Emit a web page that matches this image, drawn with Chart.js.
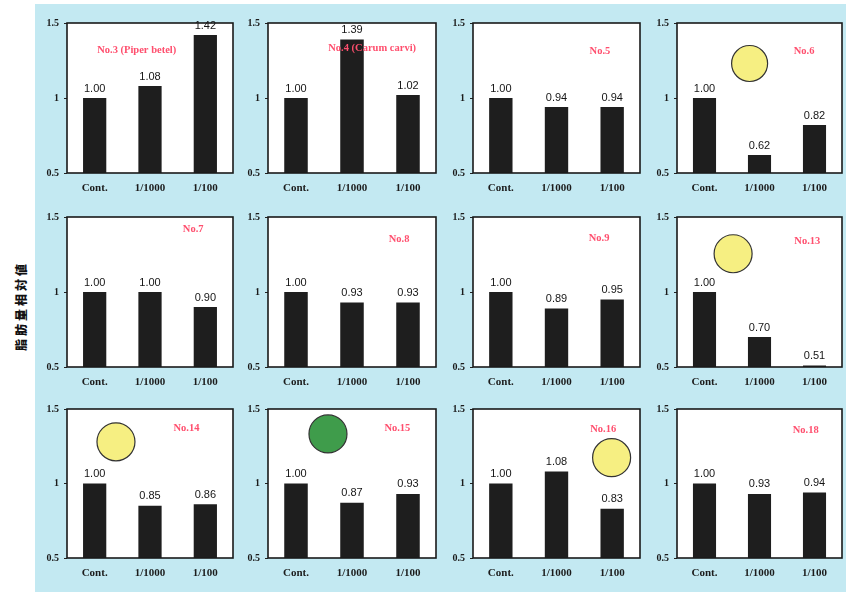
<!DOCTYPE html>
<html>
<head>
<meta charset="utf-8">
<script src="https://cdn.jsdelivr.net/npm/chart.js@4.4.1/dist/chart.umd.min.js"></script>
<style>
  html, body { margin: 0; padding: 0; background: #ffffff; }
  #stage { position: relative; width: 846px; height: 595px; overflow: hidden; background: #ffffff; }
  #tint { position: absolute; left: 35px; top: 4px; right: 0; bottom: 3px; background: #c3e9f2; }
  .panel { position: absolute; }
  #ylabel {
    position: absolute; left: 20px; top: 306px;
    transform: translate(-50%, -50%) rotate(-90deg);
    font: 900 12px "Noto Sans CJK JP", sans-serif; letter-spacing: 3px;
    white-space: nowrap; color: #111;
  }
</style>
</head>
<body>
<div id="stage">
  <div id="tint"></div>
  <div id="ylabel">脂肪量相対値</div>
</div>
<script>
// Treatment groups shared by every panel
const categories = ['Cont.', '1/1000', '1/100'];
const yTicks = [0.5, 1, 1.5];

// Relative fat amount per sample (Cont., 1/1000, 1/100)
const no3  = [1.00, 1.08, 1.42];
const no4  = [1.00, 1.39, 1.02];
const no5  = [1.00, 0.94, 0.94];
const no6  = [1.00, 0.62, 0.82];
const no7  = [1.00, 1.00, 0.90];
const no8  = [1.00, 0.93, 0.93];
const no9  = [1.00, 0.89, 0.95];
const no13 = [1.00, 0.70, 0.51];
const no14 = [1.00, 0.85, 0.86];
const no15 = [1.00, 0.87, 0.93];
const no16 = [1.00, 1.08, 0.83];
const no18 = [1.00, 0.93, 0.94];

const panelTitles = ['No.3 (Piper betel)', 'No.4 (Carum carvi)', 'No.5', 'No.6',
                     'No.7', 'No.8', 'No.9', 'No.13',
                     'No.14', 'No.15', 'No.16', 'No.18'];
const panelValues = [no3, no4, no5, no6, no7, no8, no9, no13, no14, no15, no16, no18];

// Page layout: plot-area bounds for each row / column
const rowBounds = [[22, 173], [216, 367], [408, 558]];
const colBounds = [[67, 233], [268, 436], [473, 640], [677, 842]];

// Title position (fraction of plot area) for each panel
const titlePos = [[0.42, 0.185], [0.62, 0.17], [0.76, 0.19], [0.77, 0.19],
                  [0.76, 0.08], [0.78, 0.15], [0.755, 0.145], [0.79, 0.16],
                  [0.72, 0.127], [0.77, 0.13], [0.78, 0.133], [0.78, 0.14]];

// Coloured disc badges (fraction of plot area, radius px)
const discs = {
  3:  { color: '#f6ef82', fx: 0.44,  fy: 0.27,  r: 18 },
  7:  { color: '#f6ef82', fx: 0.34,  fy: 0.245, r: 19 },
  8:  { color: '#f6ef82', fx: 0.295, fy: 0.22,  r: 19 },
  9:  { color: '#3f9c4b', fx: 0.357, fy: 0.167, r: 19 },
  10: { color: '#f6ef82', fx: 0.83,  fy: 0.327, r: 19 }
};

const PAD_TOP = 10, PAD_RIGHT = 4, Y_AXIS_W = 30, X_AXIS_H = 26;
const SERIF = '"Liberation Serif", "Times New Roman", serif';

const decorPlugin = {
  id: 'decor',
  beforeDraw(chart) {
    // white plot background
    const { ctx, chartArea: a } = chart;
    ctx.save();
    ctx.fillStyle = '#ffffff';
    ctx.fillRect(a.left, a.top, a.right - a.left, a.bottom - a.top);
    ctx.restore();
  },
  afterDatasetsDraw(chart, args, opts) {
    const { ctx, chartArea: a } = chart;
    const w = a.right - a.left, h = a.bottom - a.top;
    ctx.save();
    // value labels above bars
    const meta = chart.getDatasetMeta(0);
    ctx.fillStyle = '#151515';
    ctx.font = '11px "Liberation Sans", Arial, sans-serif';
    ctx.textAlign = 'center';
    ctx.textBaseline = 'bottom';
    meta.data.forEach((bar, i) => {
      const v = chart.data.datasets[0].data[i];
      ctx.fillText(v.toFixed(2), bar.x, bar.y - 4);
    });
    // disc badge
    if (opts.disc) {
      const d = opts.disc;
      ctx.beginPath();
      ctx.arc(a.left + d.fx * w, a.top + d.fy * h, d.r, 0, Math.PI * 2);
      ctx.fillStyle = d.color;
      ctx.fill();
      ctx.lineWidth = 1.2;
      ctx.strokeStyle = '#333';
      ctx.stroke();
    }
    // panel title
    ctx.fillStyle = '#ff4f6e';
    ctx.font = 'bold 10.5px ' + SERIF;
    ctx.textBaseline = 'middle';
    ctx.fillText(opts.title, a.left + opts.tx * w, a.top + opts.ty * h);
    // frame
    ctx.lineWidth = 1.6;
    ctx.strokeStyle = '#1a1a1a';
    ctx.strokeRect(a.left, a.top, w, h);
    ctx.restore();
  }
};

const stage = document.getElementById('stage');

panelValues.forEach((vals, i) => {
  const r = Math.floor(i / 4), c = i % 4;
  const [T, B] = rowBounds[r];
  const [L, R] = colBounds[c];
  const div = document.createElement('div');
  div.className = 'panel';
  const cw = R - L + Y_AXIS_W + PAD_RIGHT;
  const ch = B - T + PAD_TOP + X_AXIS_H;
  div.style.left = (L - Y_AXIS_W) + 'px';
  div.style.top = (T - PAD_TOP) + 'px';
  div.style.width = cw + 'px';
  div.style.height = ch + 'px';
  const cv = document.createElement('canvas');
  div.appendChild(cv);
  stage.appendChild(div);

  new Chart(cv, {
    type: 'bar',
    data: {
      labels: categories,
      datasets: [{
        data: vals,
        backgroundColor: '#1e1e1e',
        borderWidth: 0,
        barPercentage: 0.84,
        categoryPercentage: 0.5
      }]
    },
    options: {
      responsive: true,
      maintainAspectRatio: false,
      animation: false,
      events: [],
      layout: { padding: { top: PAD_TOP, right: PAD_RIGHT, left: 0, bottom: 0 } },
      plugins: {
        legend: { display: false },
        tooltip: { enabled: false },
        decor: { title: panelTitles[i], tx: titlePos[i][0], ty: titlePos[i][1], disc: discs[i] || null }
      },
      scales: {
        x: {
          grid: { display: false, drawTicks: false },
          border: { display: false },
          ticks: {
            color: '#1c1c1c', padding: 9, maxRotation: 0, autoSkip: false,
            font: { family: SERIF, size: 11, weight: 'bold' }
          },
          afterFit(s) { s.height = X_AXIS_H; }
        },
        y: {
          min: 0.5, max: 1.5,
          grid: { drawOnChartArea: false, drawTicks: true, tickLength: 3, color: '#222' },
          border: { display: false },
          afterBuildTicks(s) { s.ticks = yTicks.map(v => ({ value: v })); },
          ticks: {
            color: '#1c1c1c', padding: 5,
            callback: v => String(v),
            font: { family: SERIF, size: 10, weight: 'bold' }
          },
          afterFit(s) { s.width = Y_AXIS_W; }
        }
      }
    },
    plugins: [decorPlugin]
  });
});
</script>
</body>
</html>
